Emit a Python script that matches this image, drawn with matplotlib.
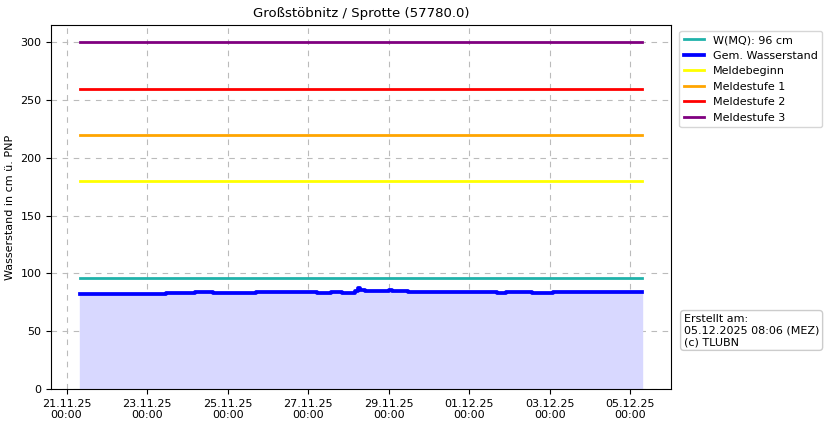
import matplotlib
matplotlib.use("Agg")
import matplotlib.pyplot as plt
import matplotlib.dates as mdates
import pandas as pd

times = ["2025-11-21 08:00","2025-11-23 11:30","2025-11-24 04:45","2025-11-24 15:20",
         "2025-11-25 17:00","2025-11-27 05:15","2025-11-27 13:40","2025-11-27 20:10",
         "2025-11-28 03:50","2025-11-28 05:30","2025-11-28 07:00","2025-11-28 09:50",
         "2025-11-29 00:00","2025-11-29 02:00","2025-11-29 11:20","2025-12-01 16:20",
         "2025-12-01 21:40","2025-12-02 13:40","2025-12-03 01:40","2025-12-05 07:00"]
values = [82,83,84,83,84,83,84,83,85,87,86,85,86,85,84,83,84,83,84,84]
wmq = 96
levels = {"Meldebeginn":(180,"yellow"),"Meldestufe 1":(220,"orange"),
          "Meldestufe 2":(260,"red"),"Meldestufe 3":(300,"purple")}

t = pd.to_datetime(times)
fig = plt.figure(figsize=(8.29,4.26), dpi=100)
ax = fig.add_axes([0.062,0.087,0.747,0.854])
ax.fill_between(t, values, step="post", color="#d8d8ff", zorder=1)
ax.plot(t, [wmq]*len(t), color="#20b2aa", lw=2, label="W(MQ): 96 cm", zorder=2)
ax.plot(t, values, drawstyle="steps-post", color="blue", lw=2.7, label="Gem. Wasserstand", zorder=3)
for name,(v,c) in levels.items():
    ax.plot([t[0],t[-1]],[v,v], color=c, lw=2, label=name, zorder=2)
ax.set_ylim(0,315)
ax.set_xlim(pd.Timestamp("2025-11-20 15:00"), pd.Timestamp("2025-12-06 00:00"))
ax.xaxis.set_major_locator(mdates.DayLocator(interval=2))
ax.xaxis.set_major_formatter(mdates.DateFormatter("%d.%m.%y\n%H:%M"))
ax.grid(True, ls=(0,(5,5)), color="#bbbbbb", lw=0.8)
ax.set_axisbelow(True)
ax.tick_params(labelsize=8)
ax.set_ylabel("Wasserstand in cm ü. PNP", fontsize=8)
ax.set_title("Großstöbnitz / Sprotte (57780.0)", fontsize=9.5)
ax.legend(loc="upper left", bbox_to_anchor=(1.005,1.0), fontsize=8, handlelength=1.8)
fig.text(0.825,0.19,"Erstellt am:\n05.12.2025 08:06 (MEZ)\n(c) TLUBN", fontsize=8,
         bbox=dict(boxstyle="round,pad=0.3", fc="white", ec="#cccccc"))
fig.savefig("out.png", dpi=100)
